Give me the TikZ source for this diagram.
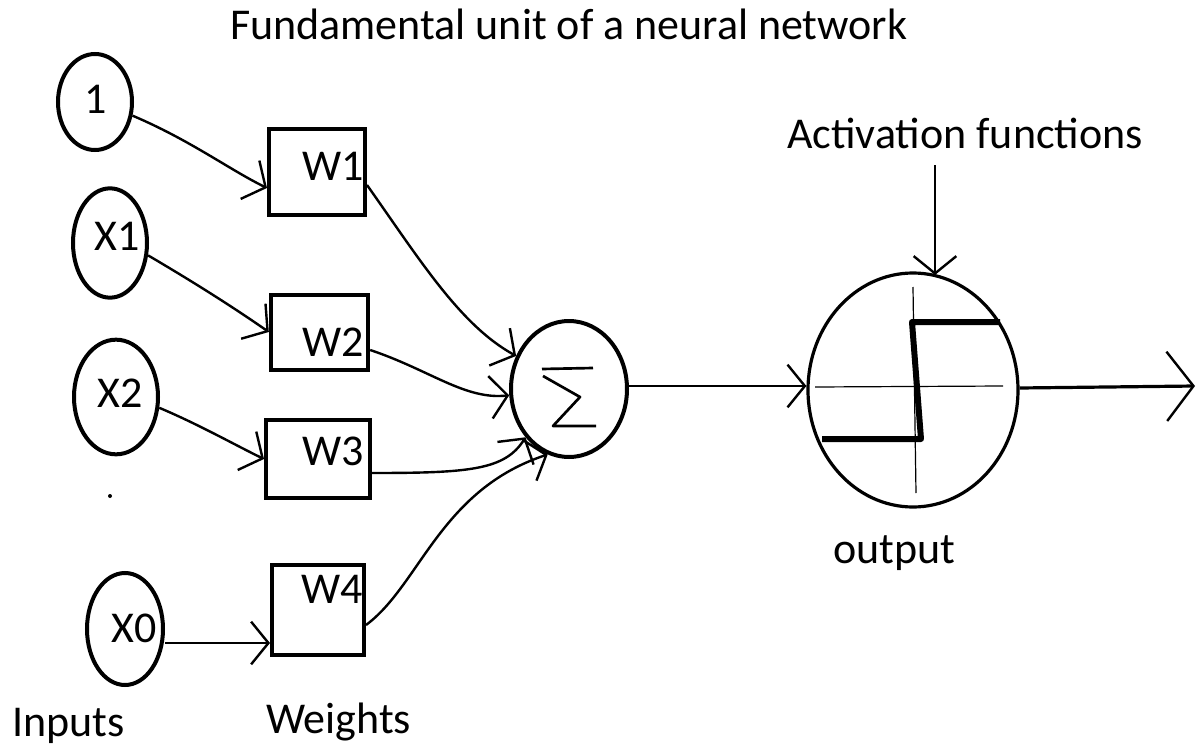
\documentclass[tikz,border=0pt]{standalone}
\usepackage{fontspec}
\setmainfont{Carlito}
\usetikzlibrary{arrows.meta,shapes.geometric}
\tikzset{
  inellipse/.style={draw, ellipse, line width=3pt, inner sep=0pt},
  wbox/.style={draw, rectangle, line width=3pt, inner sep=0pt},
  txt/.style={anchor=base west, inner sep=0pt, font=\fontsize{33}{38}\selectfont},
  conn/.style={line width=1.8pt, -{Straight Barb[length=13pt,width=32pt,line width=1.8pt]}},
  bigconn/.style={line width=2.4pt, -{Straight Barb[length=20pt,width=52pt,line width=1.8pt]}},
  axis/.style={line width=0.9pt},
  stepline/.style={line width=4.5pt, line join=round},
}
\begin{document}
\begin{tikzpicture}[x=0.75pt,y=-0.75pt]
\useasboundingbox (0,0) rectangle (1197,746);
% inputs
\node[inellipse, minimum width=55.5pt, minimum height=72pt] (i1) at (95,102) {};
\node[inellipse, minimum width=55.5pt, minimum height=82pt] (ix1) at (110,243) {};
\node[inellipse, minimum width=63pt, minimum height=86pt] (ix2) at (116,397) {};
\node[inellipse, minimum width=57pt, minimum height=84pt] (ix0) at (125,629) {};
\node[txt] (t1) at (84,113) {1};
\node[txt] (tx1) at (94,250) {X1};
\node[txt] (tx2) at (97,407) {X2};
\node[txt] (tx0) at (111,642) {X0};
\fill (110,496) circle (1.5pt);
% weights
\node[wbox, minimum width=72pt, minimum height=65pt] (w1) at (317,172) {};
\node[wbox, minimum width=73pt, minimum height=56pt] (w2) at (319.5,332.5) {};
\node[wbox, minimum width=78pt, minimum height=58.5pt] (w3) at (318,459) {};
\node[wbox, minimum width=69pt, minimum height=67.5pt] (w4) at (318,610) {};
\node[txt] (tw1) at (302,180) {W1};
\node[txt] (tw2) at (302,356) {W2};
\node[txt] (tw3) at (302,465) {W3};
\node[txt] (tw4) at (301,603) {W4};
% summation
\node[inellipse, minimum width=87pt, minimum height=102pt] (sum) at (569,389) {};
\draw[line width=2pt, line join=round] (542,369) -- (593,368)
  (543,376) -- (580,397) -- (553,426) -- (596,426);
% activation
\node[draw, ellipse, line width=2.4pt, inner sep=0pt, minimum width=157.5pt, minimum height=175.5pt] (act) at (913,390) {};
\draw[axis] (815,387) -- (1003,386);
\draw[axis] (913,287) -- (916,493);
\draw[stepline] (822,439) -- (921,439) -- (912,322) -- (1000,322);
% texts
\node[txt] (title) at (230,40) {Fundamental unit of a neural network};
\node[txt] (actlabel) at (787,148) {Activation functions};
\node[txt] (outlabel) at (833,563) {output};
\node[txt] (inlabel) at (12,736) {Inputs};
\node[txt] (wlabel) at (266,733) {Weights};
% connectors inputs -> weights
\draw[conn] (i1.-20) .. controls (190,140) and (230,170) .. (w1.west |- 0,188);
\draw[conn] (ix1.-18) .. controls (190,280) and (230,305) .. (w2.west |- 0,332);
\draw[conn] (ix2.-14) .. controls (200,425) and (235,445) .. (w3.west |- 0,459);
\draw[conn] (ix0.east |- 0,643) -- (w4.west |- 0,643);
% weights -> sum
\draw[conn] (w1.east |- 0,185) .. controls (420,260) and (460,325) .. (sum.148);
\draw[conn] (w2.east |- 0,350) .. controls (430,370) and (465,400) .. (sum.186);
\draw[conn] (w3.east |- 0,473) .. controls (470,473) and (505,470) .. (sum.228);
\draw[conn] (w4.east |- 0,625) .. controls (420,585) and (440,490) .. (sum.252);
% sum -> act -> out
\draw[conn] (sum.east |- 0,386) -- (act.west |- 0,386);
\coordinate (outEnd) at (1195,386);
\draw[bigconn] (act.east |- 0,388) -- (outEnd);
\coordinate (afTop) at (935,165);
\draw[conn] (afTop) -- (935,275);
\end{tikzpicture}
\end{document}
